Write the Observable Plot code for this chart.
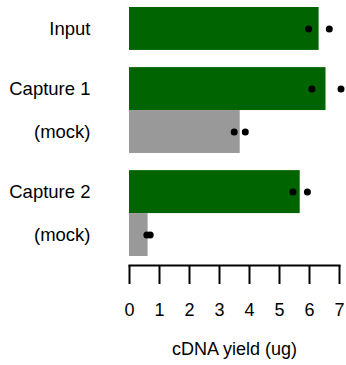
<!DOCTYPE html>
<html>
<head>
<meta charset="utf-8">
<script src="https://cdn.jsdelivr.net/npm/d3@7"></script>
<script src="https://cdn.jsdelivr.net/npm/@observablehq/plot@0.6"></script>
<style>
  html, body { margin: 0; padding: 0; background: #fff; }
  #chart svg { display: block; }
</style>
</head>
<body>
<div id="chart"></div>
<script>
// Data
const labels = ["Input", "Capture 1", "(mock)", "Capture 2", "(mock)"];
const groups = [0, 1, 1, 2, 2];
const kinds = ["sample", "sample", "mock", "sample", "mock"];
const means = [6.32, 6.55, 3.69, 5.69, 0.62];
const rep1 = [5.97, 6.08, 3.49, 5.45, 0.58];
const rep2 = [6.66, 7.05, 3.86, 5.93, 0.69];
const xTicks = [0, 1, 2, 3, 4, 5, 6, 7];

// layout: each row is one unit; groups are separated by a small gap
const GAP = 0.4;
const rows = labels.map((label, i) => {
  const top = i + groups[i] * GAP;
  return {label, kind: kinds[i], mean: means[i], top, bottom: top + 1, mid: top + 0.5};
});
const reps = rows.flatMap((r, i) => [{x: rep1[i], mid: r.mid}, {x: rep2[i], mid: r.mid}]);
const total = labels.length + (groups[groups.length - 1]) * GAP;

const chart = Plot.plot({
  width: 346,
  height: 365,
  marginLeft: 129,
  marginRight: 7,
  marginTop: 7,
  marginBottom: 100,
  style: {fontFamily: "Arial, 'Liberation Sans', Helvetica, sans-serif", fontSize: "18px", color: "#000", background: "#fff"},
  x: {domain: [0, 7]},
  y: {domain: [total, 0], insetBottom: 9, axis: null},
  color: {domain: ["sample", "mock"], range: ["#006400", "#999999"]},
  marks: [
    Plot.rectX(rows, {x1: 0, x2: "mean", y1: "top", y2: "bottom", fill: "kind"}),
    Plot.dot(reps, {x: "x", y: "mid", r: 3.5, fill: "#000", stroke: null}),
    Plot.text(rows, {x: 0, y: "mid", text: "label", textAnchor: "end", dx: -39, fontSize: 18.5, fill: "#000"}),
    Plot.frame({anchor: "bottom", stroke: "#000", strokeWidth: 2}),
    Plot.axisX({
      ticks: xTicks,
      tickFormat: d => String(d),
      tickSize: 19,
      tickPadding: 19,
      strokeWidth: 2,
      fontSize: 18,
      label: "cDNA yield (ug)",
      labelAnchor: "center",
      labelArrow: "none",
      labelOffset: 89
    })
  ]
});
document.getElementById("chart").append(chart);
</script>
</body>
</html>
